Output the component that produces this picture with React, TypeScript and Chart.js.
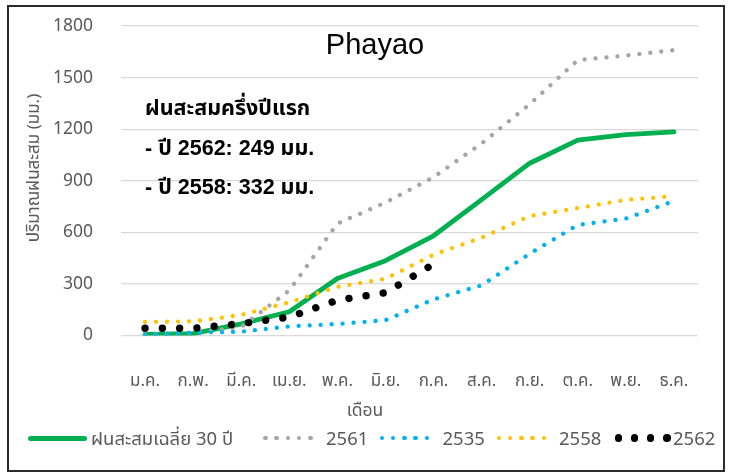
import React, { useEffect, useRef } from "react";
import { Chart, registerables } from "chart.js";

Chart.register(...registerables);

// ---------- data ----------
const months = ["ม.ค.", "ก.พ.", "มี.ค.", "เม.ย.", "พ.ค.", "มิ.ย.", "ก.ค.", "ส.ค.", "ก.ย.", "ต.ค.", "พ.ย.", "ธ.ค."];
const avg30 = [7, 11, 68, 138, 332, 435, 580, 790, 1002, 1136, 1168, 1184];
const rain2561 = [8, 15, 50, 262, 651, 773, 921, 1117, 1345, 1602, 1628, 1660];
const rain2535 = [3, 16, 22, 53, 67, 89, 210, 292, 476, 643, 680, 782];
const rain2558 = [79, 82, 120, 193, 283, 330, 470, 569, 695, 741, 789, 810];
const rain2562 = [42, 42, 69, 107, 205, 249, 415];
const seriesNames = ["ฝนสะสมเฉลี่ย 30 ปี", "2561", "2535", "2558", "2562"];
const yTickValues = [0, 300, 600, 900, 1200, 1500, 1800];
const chartTitle = "Phayao";
const noteLines = ["ฝนสะสมครึ่งปีแรก", "- ปี 2562: 249 มม.", "- ปี 2558: 332 มม."];
const yAxisTitle = "ปริมาณฝนสะสม (มม.)";
const xAxisTitle = "เดือน";

// ---------- styles ----------
const FONT = "'Noto Sans', 'Noto Sans Thai', 'Leelawadee UI', Tahoma, 'DejaVu Sans', sans-serif";
const BOLD_FONT = "'Liberation Sans', Arial, 'Noto Sans Thai', 'Noto Sans', 'DejaVu Sans', sans-serif";
const TEXT_GREY = "#595959";
const COLORS = ["#00B050", "#A5A5A5", "#00B0F0", "#FFC000", "#000000"];

const W = 729;
const H = 472;

type LegendSpec = { kind: "line" | "dots"; sampleLeft: number; count: number; gap: number; size: number; textLeft: number };
const legendLayout: LegendSpec[] = [
  { kind: "line", sampleLeft: 28, count: 1, gap: 59, size: 5, textLeft: 91 },
  { kind: "dots", sampleLeft: 263, count: 5, gap: 11.3, size: 4.5, textLeft: 326 },
  { kind: "dots", sampleLeft: 379.5, count: 5, gap: 11.3, size: 4.5, textLeft: 442.5 },
  { kind: "dots", sampleLeft: 496.5, count: 5, gap: 11.3, size: 4.5, textLeft: 559 },
  { kind: "dots", sampleLeft: 614.5, count: 4, gap: 16.2, size: 7.5, textLeft: 673 },
];
const LEGEND_Y = 438;
const NOTE_TOPS = [98, 138, 177];

export default function App() {
  const canvasRef = useRef<HTMLCanvasElement | null>(null);

  useEffect(() => {
    const canvas = canvasRef.current;
    if (!canvas) return;
    const dotted = (w: number, gap: number) => ({
      borderWidth: w,
      borderDash: [0.001, gap],
      borderCapStyle: "round" as const,
      borderJoinStyle: "round" as const,
    });
    const chart = new Chart(canvas, {
      type: "line",
      data: {
        labels: months,
        datasets: [
          { label: seriesNames[0], data: avg30, borderColor: COLORS[0], borderWidth: 4.8, borderCapStyle: "round", borderJoinStyle: "round", pointRadius: 0, order: 5 },
          { label: seriesNames[1], data: rain2561, borderColor: COLORS[1], ...dotted(4.3, 11), pointRadius: 0, order: 4 },
          { label: seriesNames[2], data: rain2535, borderColor: COLORS[2], ...dotted(4.3, 11), pointRadius: 0, order: 3 },
          { label: seriesNames[3], data: rain2558, borderColor: COLORS[3], ...dotted(4.3, 11), pointRadius: 0, order: 2 },
          { label: seriesNames[4], data: rain2562, borderColor: COLORS[4], ...dotted(7.4, 17.3), pointRadius: 0, order: 1 },
        ],
      },
      options: {
        responsive: false,
        animation: false,
        devicePixelRatio: 1,
        layout: { padding: { left: 10, right: 31, top: 26, bottom: 0 } },
        plugins: {
          legend: { display: false },
          title: { display: false },
          tooltip: { enabled: false },
        },
        scales: {
          x: {
            type: "category",
            offset: true,
            grid: { display: false, drawTicks: false },
            border: { display: false },
            ticks: {
              color: TEXT_GREY,
              font: { family: FONT, size: 17 },
              padding: 35,
              maxRotation: 0,
              autoSkip: false,
            },
            afterFit: (s: any) => {
              s.height = H - 335.5;
              s.paddingLeft = 0;
              s.paddingRight = 0;
            },
          },
          y: {
            min: 0,
            max: 1800,
            grid: { color: "#D9D9D9", lineWidth: 1.3, drawTicks: false },
            border: { display: false },
            ticks: {
              color: TEXT_GREY,
              font: { family: FONT, size: 17.5 },
              padding: 28,
              callback: (v: any) => String(v),
            },
            afterBuildTicks: (s: any) => {
              s.ticks = yTickValues.map((v) => ({ value: v }));
            },
            afterFit: (s: any) => {
              s.width = 111;
              s.paddingTop = 0;
              s.paddingBottom = 0;
            },
          },
        },
      },
    });
    return () => chart.destroy();
  }, []);

  return (
    <div style={{ position: "fixed", left: 0, top: 0, width: W, height: H, background: "#fff", overflow: "hidden" }}>
      <canvas ref={canvasRef} width={W} height={H} style={{ position: "absolute", left: 0, top: 0, width: W, height: H }} />
      <div
        style={{
          position: "absolute",
          left: 7,
          top: 5,
          width: 718,
          height: 467,
          boxSizing: "border-box",
          border: "2px solid #2b2b2b",
          pointerEvents: "none",
        }}
      />
      {/* chart title */}
      <div
        style={{
          position: "absolute",
          left: 375,
          top: 29.5,
          transform: "translateX(-50%)",
          font: `29px 'Liberation Sans', Arial, sans-serif`,
          lineHeight: "29px",
          color: "#000",
          whiteSpace: "nowrap",
        }}
      >
        {chartTitle}
      </div>
      {/* note */}
      {noteLines.map((t, i) => (
        <div
          key={i}
          style={{
            position: "absolute",
            left: 145,
            top: NOTE_TOPS[i],
            font: `bold 21.5px ${BOLD_FONT}`,
            lineHeight: "21px",
            color: "#000",
            whiteSpace: "nowrap",
          }}
        >
          {t}
        </div>
      ))}
      {/* y axis title */}
      <div
        style={{
          position: "absolute",
          left: 33,
          top: 168,
          transform: "translate(-50%, -50%) rotate(-90deg)",
          font: `17px ${FONT}`,
          lineHeight: "22px",
          color: TEXT_GREY,
          whiteSpace: "nowrap",
        }}
      >
        {yAxisTitle}
      </div>
      {/* x axis title */}
      <div
        style={{
          position: "absolute",
          left: 365,
          top: 409,
          transform: "translate(-50%, -50%)",
          font: `17.5px ${FONT}`,
          lineHeight: "22px",
          color: TEXT_GREY,
          whiteSpace: "nowrap",
        }}
      >
        {xAxisTitle}
      </div>
      {/* legend */}
      {legendLayout.map((spec, i) => (
        <React.Fragment key={i}>
          {spec.kind === "line" ? (
            <div
              style={{
                position: "absolute",
                left: spec.sampleLeft,
                top: LEGEND_Y - spec.size / 2,
                width: spec.gap,
                height: spec.size,
                borderRadius: spec.size / 2,
                background: COLORS[i],
              }}
            />
          ) : (
            Array.from({ length: spec.count }).map((_, k) => (
              <div
                key={k}
                style={{
                  position: "absolute",
                  left: spec.sampleLeft + k * spec.gap,
                  top: LEGEND_Y - spec.size / 2,
                  width: spec.size,
                  height: spec.size,
                  borderRadius: "50%",
                  background: COLORS[i],
                }}
              />
            ))
          )}
          <div
            style={{
              position: "absolute",
              left: spec.textLeft,
              top: LEGEND_Y,
              transform: "translateY(-50%)",
              font: `18.5px ${FONT}`,
              lineHeight: "24px",
              color: TEXT_GREY,
              whiteSpace: "nowrap",
            }}
          >
            {seriesNames[i]}
          </div>
        </React.Fragment>
      ))}
    </div>
  );
}
